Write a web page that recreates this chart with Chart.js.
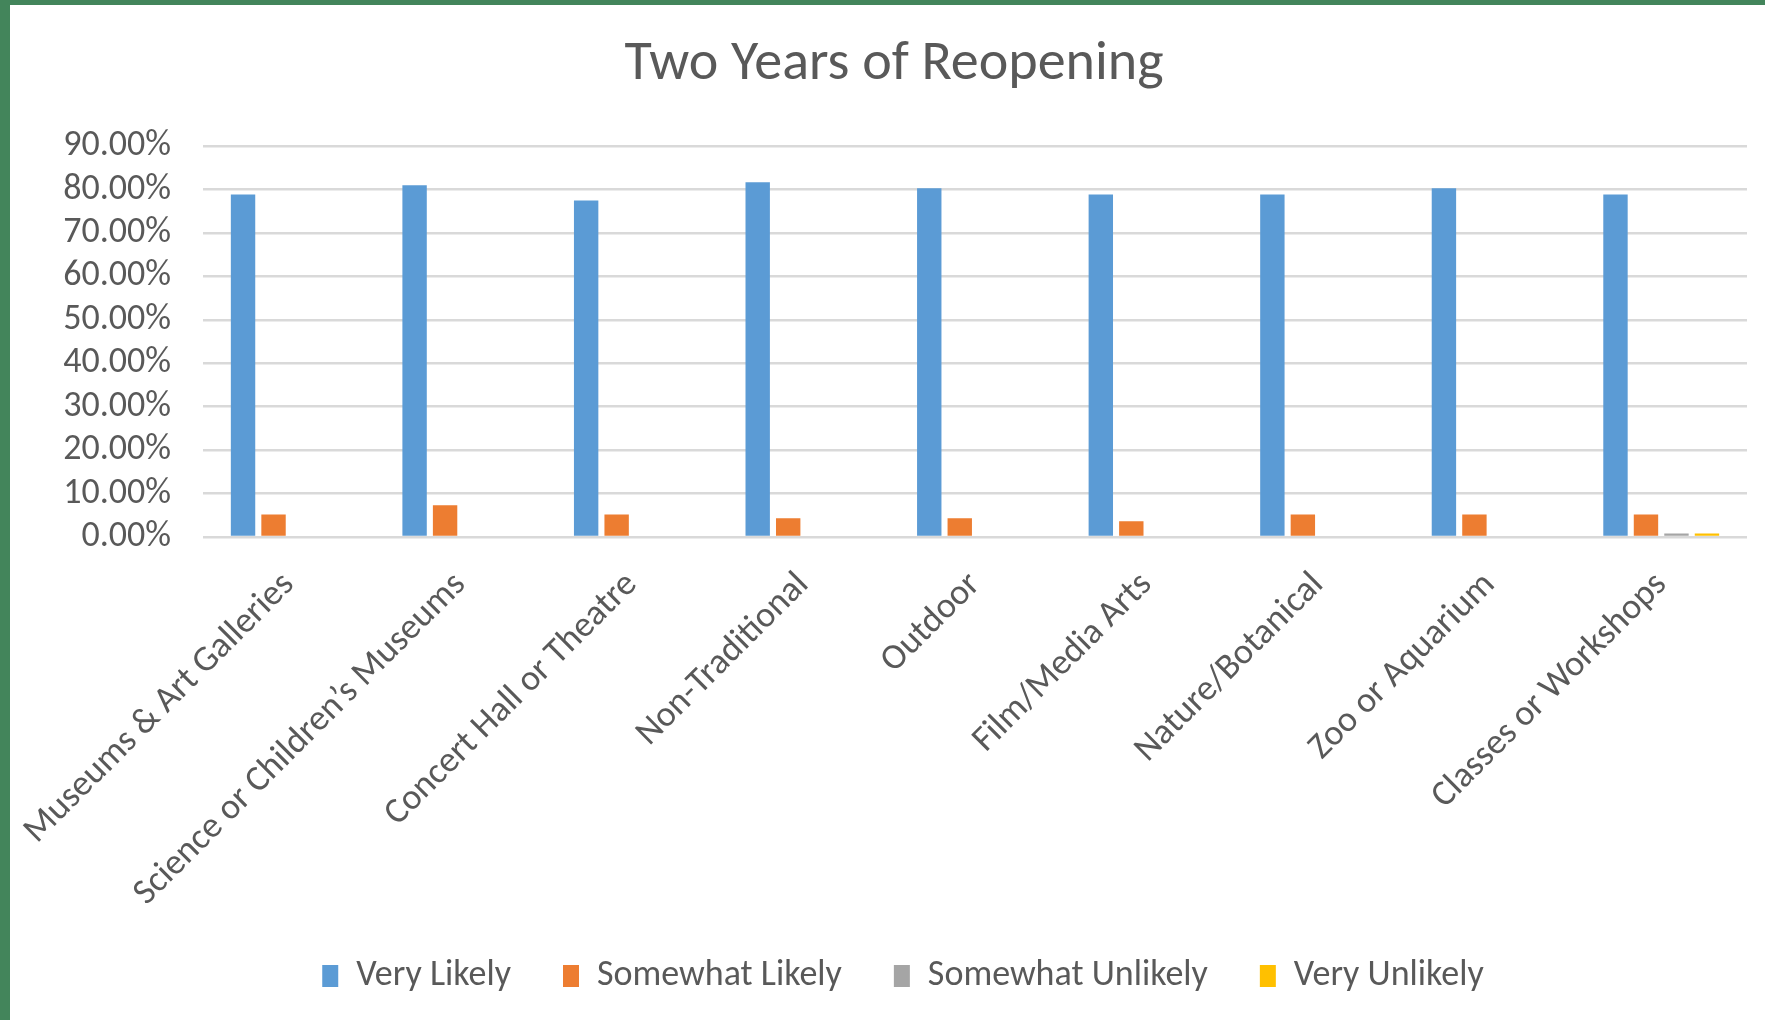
<!DOCTYPE html>
<html>
<head>
<meta charset="utf-8">
<script src="https://cdn.jsdelivr.net/npm/chart.js@4/dist/chart.umd.min.js"></script>
<style>
  html, body { margin: 0; padding: 0; background: #43855B; width: 1765px; height: 1020px; overflow: hidden; }
  #wrap { position: absolute; left: 10px; top: 5px; width: 1755px; height: 1015px; background: #ffffff; }
  canvas { display: block; }
</style>
</head>
<body>
<div id="wrap"><canvas id="c" width="1755" height="1015"></canvas></div>
<script>
const chartTitle = "Two Years of Reopening";
const categories = [
  "Museums & Art Galleries",
  "Science or Children\u2019s Museums",
  "Concert Hall or Theatre",
  "Non-Traditional",
  "Outdoor",
  "Film/Media Arts",
  "Nature/Botanical",
  "Zoo or Aquarium",
  "Classes or Workshops"
];
const seriesNames = ["Very Likely", "Somewhat Likely", "Somewhat Unlikely", "Very Unlikely"];
const veryLikely       = [78.9, 81.0, 77.5, 81.7, 80.3, 78.9, 78.9, 80.3, 78.9];
const somewhatLikely   = [5.2, 7.3, 5.2, 4.3, 4.3, 3.6, 5.2, 5.2, 5.2];
const somewhatUnlikely = [0, 0, 0, 0, 0, 0, 0, 0, 0.8];
const veryUnlikely     = [0, 0, 0, 0, 0, 0, 0, 0, 0.8];
const yTicks = [0, 10, 20, 30, 40, 50, 60, 70, 80, 90];
const colors = ["#5B9BD5", "#ED7D31", "#A5A5A5", "#FFC000"];

const FONT = "Carlito, Lato, 'Open Sans', sans-serif";
const TEXT = "#595959";

const allSeries = [veryLikely, somewhatLikely, somewhatUnlikely, veryUnlikely];
const datasets = allSeries.map((d, i) => ({
  label: seriesNames[i],
  data: d,
  backgroundColor: colors[i],
  borderWidth: 0,
  barPercentage: 0.8,
  categoryPercentage: 0.711
}));

const legendShift = {
  id: "legendShift",
  afterLayout(chart) {
    if (chart.legend) { chart.legend.left += 9; chart.legend.right += 9; }
  }
};

new Chart(document.getElementById("c"), {
  type: "bar",
  data: { labels: categories, datasets },
  plugins: [legendShift],
  options: {
    responsive: false,
    devicePixelRatio: 1,
    animation: false,
    layout: { padding: { left: 31, right: 18, top: 0, bottom: 16 } },
    plugins: {
      title: {
        display: true,
        text: chartTitle,
        color: TEXT,
        font: { family: FONT, size: 56, weight: "normal", lineHeight: 1.2 },
        padding: { top: 26, bottom: 48 }
      },
      legend: {
        position: "bottom",
        labels: {
          color: TEXT,
          font: { family: FONT, size: 36 },
          boxWidth: 16,
          boxHeight: 22,
          padding: 52
        }
      },
      tooltip: { enabled: false }
    },
    scales: {
      x: {
        grid: { display: false },
        border: { display: false },
        ticks: {
          color: TEXT,
          font: { family: FONT, size: 36 },
          autoSkip: false,
          maxRotation: 45,
          minRotation: 45,
          padding: 19
        },
        afterFit: (s) => { s.height = 369; s.paddingLeft = 0; s.paddingRight = 0; }
      },
      y: {
        min: 0,
        max: 90,
        afterBuildTicks: (s) => { s.ticks = yTicks.map(v => ({ value: v })); },
        grid: { color: "#D9D9D9", lineWidth: 2.5, drawTicks: false },
        border: { display: false },
        ticks: {
          color: TEXT,
          font: { family: FONT, size: 36 },
          autoSkip: false,
          padding: 32,
          callback: (v) => v.toFixed(2) + "%"
        },
        afterFit: (s) => { s.width = 162; }
      }
    }
  }
});
</script>
</body>
</html>
